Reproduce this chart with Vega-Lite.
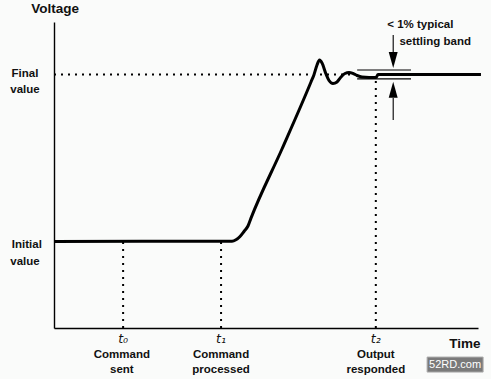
{
  "$schema": "https://vega.github.io/schema/vega-lite/v6.json",
  "width": 424,
  "height": 306,
  "autosize": {"type": "none"},
  "padding": {"left": 54, "top": 22, "right": 13, "bottom": 51},
  "background": "#fafbfa",
  "config": {"view": {"stroke": null}, "text": {"font": "Liberation Sans", "fontWeight": "bold"}},
  "datasets": {
    "curve": [
      {"t": 0, "v": 28.3}, {"t": 41.98, "v": 28.34}, {"t": 42.92, "v": 28.82}, {"t": 43.87, "v": 29.9},
      {"t": 44.81, "v": 31.54}, {"t": 45.75, "v": 33.33}, {"t": 46.46, "v": 35.9}, {"t": 53.77, "v": 58.5},
      {"t": 60.61, "v": 80.4}, {"t": 61.32, "v": 82.8}, {"t": 62.03, "v": 85.95},
      {"t": 62.62, "v": 87.58}, {"t": 63.21, "v": 86.6}, {"t": 64.15, "v": 83.01}, {"t": 64.86, "v": 80.88},
      {"t": 65.8, "v": 79.9}, {"t": 66.75, "v": 80.39}, {"t": 67.69, "v": 82.03}, {"t": 68.63, "v": 83.17},
      {"t": 69.58, "v": 83.5}, {"t": 70.52, "v": 83.17}, {"t": 71.46, "v": 82.52}, {"t": 72.64, "v": 82.03},
      {"t": 75.94, "v": 81.86}, {"t": 76.42, "v": 82.84}, {"t": 100.7, "v": 82.84}
    ],
    "thin": [
      {"t": 71.5, "t2": 84.2, "v": 84.3, "v2": 84.3},
      {"t": 71.5, "t2": 84.2, "v": 81.4, "v2": 81.4},
      {"t": 80.0, "t2": 80.0, "v": 95.75, "v2": 90.2},
      {"t": 80.0, "t2": 80.0, "v": 75.2, "v2": 68.0}
    ],
    "dotted": [
      {"t": 0, "t2": 71.2, "v": 82.84, "v2": 82.84},
      {"t": 16.3, "t2": 16.3, "v": 0, "v2": 28.3},
      {"t": 39.4, "t2": 39.4, "v": 0, "v2": 28.3},
      {"t": 75.9, "t2": 75.9, "v": 0, "v2": 81.9}
    ],
    "heads": [
      {"t": 80.0, "v": 87.6, "dir": "down"},
      {"t": 80.0, "v": 77.9, "dir": "up"}
    ],
    "labels": [
      {"t": -6.84, "v": 83.0, "text": "Final"},
      {"t": -6.84, "v": 77.8, "text": "value"},
      {"t": -6.4, "v": 27.1, "text": "Initial"},
      {"t": -6.84, "v": 21.6, "text": "value"},
      {"t": 16.0, "v": -8.8, "text": "Command"},
      {"t": 16.0, "v": -13.7, "text": "sent"},
      {"t": 39.4, "v": -8.8, "text": "Command"},
      {"t": 39.4, "v": -13.7, "text": "processed"},
      {"t": 75.9, "v": -8.8, "text": "Output"},
      {"t": 75.9, "v": -13.7, "text": "responded"},
      {"t": 86.4, "v": 99.0, "text": "< 1% typical"},
      {"t": 89.9, "v": 93.5, "text": "settling band"}
    ],
    "tlabels": [
      {"t": 16.3, "v": -3.5, "text": "t₀"},
      {"t": 39.4, "v": -3.5, "text": "t₁"},
      {"t": 75.9, "v": -3.5, "text": "t₂"}
    ],
    "titles": [
      {"t": 0.24, "v": 104.2, "text": "Voltage"},
      {"t": 96.9, "v": -5.2, "text": "Time"}
    ],
    "mark": [
      {"t": 88.0, "t2": 101.2, "v": -9.5, "v2": -14.4, "text": "52RD.com", "tc": 94.6, "vc": -12.1}
    ]
  },
  "layer": [
    {
      "data": {"name": "curve"},
      "mark": {"type": "line", "color": "#000", "strokeWidth": 3, "interpolate": "monotone", "clip": false},
      "encoding": {
        "x": {"field": "t", "type": "quantitative", "scale": {"domain": [0, 100], "nice": false, "zero": false},
          "axis": {"title": null, "labels": false, "ticks": false, "grid": false, "domainColor": "#000", "domainWidth": 1.4}},
        "y": {"field": "v", "type": "quantitative", "scale": {"domain": [0, 100], "nice": false, "zero": false},
          "axis": {"title": null, "labels": false, "ticks": false, "grid": false, "domainColor": "#000", "domainWidth": 1.4}}
      }
    },
    {
      "data": {"name": "thin"},
      "mark": {"type": "rule", "color": "#000", "strokeWidth": 1.1},
      "encoding": {
        "x": {"field": "t", "type": "quantitative"}, "x2": {"field": "t2"},
        "y": {"field": "v", "type": "quantitative"}, "y2": {"field": "v2"}
      }
    },
    {
      "data": {"name": "dotted"},
      "mark": {"type": "rule", "color": "#000", "strokeWidth": 2, "strokeDash": [2, 5]},
      "encoding": {
        "x": {"field": "t", "type": "quantitative"}, "x2": {"field": "t2"},
        "y": {"field": "v", "type": "quantitative"}, "y2": {"field": "v2"}
      }
    },
    {
      "data": {"name": "heads"},
      "mark": {"type": "point", "filled": true, "color": "#000", "opacity": 1, "size": 256},
      "encoding": {
        "x": {"field": "t", "type": "quantitative"},
        "y": {"field": "v", "type": "quantitative"},
        "shape": {"field": "dir", "type": "nominal", "legend": null,
          "scale": {"domain": ["down", "up"], "range": ["M-0.56,-1L0.56,-1L0,1Z", "M0,-1L0.56,1L-0.56,1Z"]}}
      }
    },
    {
      "data": {"name": "labels"},
      "mark": {"type": "text", "fontSize": 11.5, "color": "#111", "align": "center", "baseline": "middle"},
      "encoding": {
        "x": {"field": "t", "type": "quantitative"},
        "y": {"field": "v", "type": "quantitative"},
        "text": {"field": "text", "type": "nominal"}
      }
    },
    {
      "data": {"name": "tlabels"},
      "mark": {"type": "text", "fontSize": 12.5, "font": "DejaVu Sans", "fontWeight": "normal", "fontStyle": "italic", "color": "#111", "align": "center", "baseline": "middle"},
      "encoding": {
        "x": {"field": "t", "type": "quantitative"},
        "y": {"field": "v", "type": "quantitative"},
        "text": {"field": "text", "type": "nominal"}
      }
    },
    {
      "data": {"name": "titles"},
      "mark": {"type": "text", "fontSize": 13.5, "color": "#111", "align": "center", "baseline": "middle"},
      "encoding": {
        "x": {"field": "t", "type": "quantitative"},
        "y": {"field": "v", "type": "quantitative"},
        "text": {"field": "text", "type": "nominal"}
      }
    },
    {
      "data": {"name": "mark"},
      "mark": {"type": "rect", "color": "#7a7a7a", "stroke": "#aaa", "strokeWidth": 1},
      "encoding": {
        "x": {"field": "t", "type": "quantitative"}, "x2": {"field": "t2"},
        "y": {"field": "v", "type": "quantitative"}, "y2": {"field": "v2"}
      }
    },
    {
      "data": {"name": "mark"},
      "mark": {"type": "text", "fontSize": 11, "fontWeight": "normal", "font": "Liberation Sans", "color": "#fff", "align": "center", "baseline": "middle"},
      "encoding": {
        "x": {"field": "tc", "type": "quantitative"},
        "y": {"field": "vc", "type": "quantitative"},
        "text": {"field": "text", "type": "nominal"}
      }
    }
  ]
}
